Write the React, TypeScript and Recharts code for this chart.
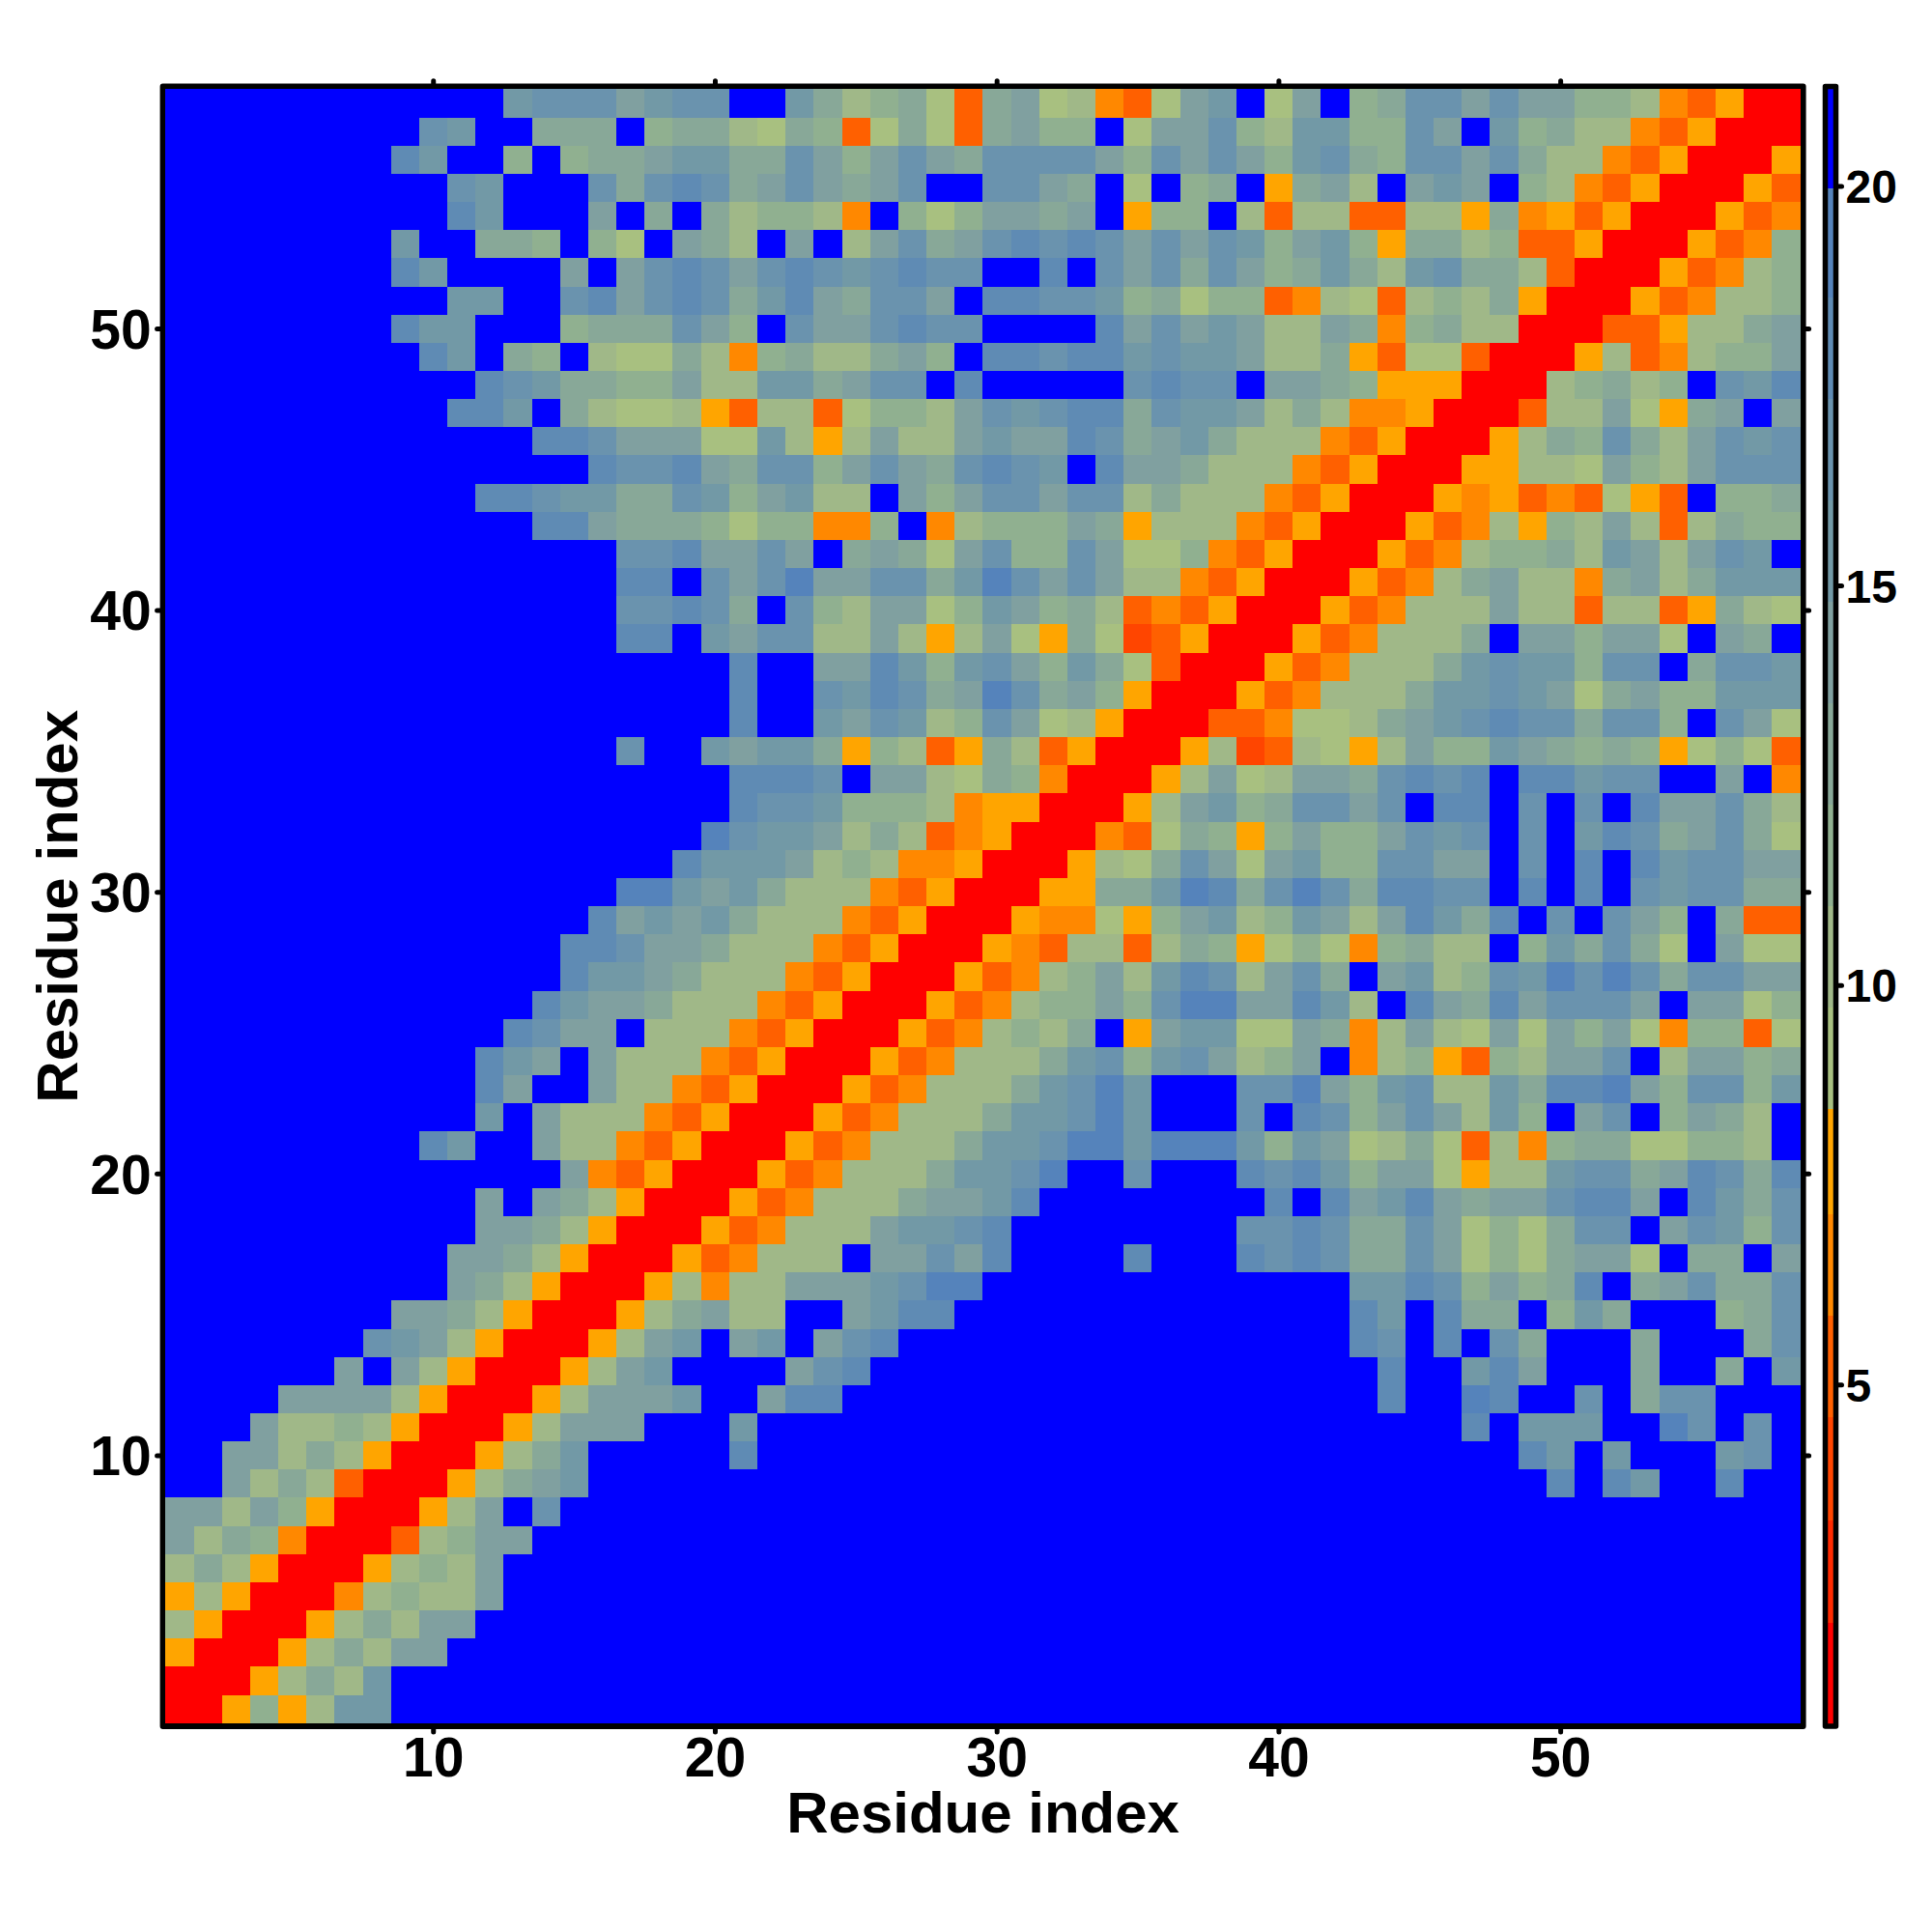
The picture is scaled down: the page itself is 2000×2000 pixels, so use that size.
import { ReferenceArea, ReferenceLine, Scatter, ScatterChart, XAxis, YAxis } from "recharts";

const FONT = '"Liberation Sans", Arial, sans-serif';

// one string per residue, from y = 58 at the top to y = 1, columns x = 1..58 (spaces are only for counting)
const rows = [
  ".......... ..67775677 ..642341U4 512VU156.1 5.34775755 332VUWRR",
  ".........7 6..444.344 2143U141U4 533.155732 663375.634 22VUWRRR",
  "........86 ..3.344566 4475357547 7775375753 6743775742 2VUWRRRW",
  ".......... 76...74787 4575457..7 754.1.34.W 452.565.32 VUWRRRWU",
  ".......... 86...5.4.4 2332V.3135 545.W33.2U 22UU22W4VW UWRRRWUV",
  "........6. .443.31.54 2.5.257457 8787575763 563W4423UU WRRRWUV3",
  "........86 ....5.5787 578767877. .8.7574753 464267442U RRRWUV23",
  ".......... 66..785787 46854775.8 877634133U V21U2324WR RRWUV223",
  "........86 6...344475 3.7557877. ...8575652 254V3422RR RUUW2245",
  ".........8 6.43.21142 V3422453.8 8788676652 24WU11URRR W2UV2335",
  ".......... .876443352 2664577.8. ....7877.5 543WWWRRR2 3423.768",
  ".......... 886.42112W U22U133257 6788476652 42VVWRRRU2 251W45.5",
  ".......... ...8875551 162W252256 5587456422 2VUWRRRW24 37425767",
  ".......... .....87785 4773575478 76.8554222 VUWRRRWW22 15325777",
  ".......... .887664476 35622.5357 757724222V UWRRRWVWUV U1WU.334",
  ".......... ...8854443 133VV3.V23 3354W222VU WRRRWUV2W3 252U2433",
  ".......... ......7785 575.454157 3375113VUW RRRWUV2334 2652576.",
  ".......... ......88.7 5795577469 757522VUWR RRWUV24522 V4524666",
  ".......... ......7787 4.73255136 5342UVUWRR RWUV222522 U22UW421",
  ".......... ......88.6 5772252W25 1W41TUWRRR WUV2224.55 3551.54.",
  ".......... .......... 8..5586367 53641URRRW UV22246766 377.4776",
  ".......... .......... 8..7687459 7453WRRRWU V222466765 14533666",
  ".......... .......... 8..6576237 512WRRRUUV 1124567877 4773.751",
  ".......... ......7..6 5664W32UW4 2UWRRRW2TU 21W2533654 343W131U",
  ".......... .......... 8887.55214 3VRRRW2512 5547878.88 677..5.V",
  ".......... .......... 87763332VW WRRRW25634 7757.88.7. 7.855742",
  ".......... .........9 7665242UVW RRRVU143W3 5335767.7. 68745741",
  ".......... ........86 665232VVWR RRW2147515 6337755.7. 8.867755",
  ".......... ......9965 64222VUWRR RWW4469847 9748877.8. 8.767744",
  ".......... .....85656 4222VUWRRR WVV1W35623 65258648.7 .753.4UU",
  ".......... ....887554 222VUWRRRW VU22U243W1 31V3422.36 4741.511",
  ".......... ....866542 22VUWRRRWU V235268725 74.5623769 79747755",
  ".......... ...8655422 2VUWRRRWUV 2335379955 862.854857 775.5513",
  ".......... ..8755.222 VUWRRRWUV2 324.W56611 54V2521515 351V33U1",
  ".......... .865.5222V UWRRRWUV22 2467367523 5.V23WU325 57.25534",
  ".......... .85..522VU WRRRWUV222 46796...77 9536722648 89537736",
  ".......... .6.5222VUW RRRWUV2224 66796...7. 873575263. 57.3542.",
  ".........8 6..522VUWR RRWUV22246 6799699963 651241U2V3 4411332.",
  ".......... ....5VUWRR RWUV222466 79..7...87 863551W226 77458748",
  ".......... .5.542WRRR WUV2224556 8........8 .856854557 885.8647",
  ".......... .5542WRRRW UV22256678 ........77 8744751314 77.57637",
  ".......... 5542WRRRWU V222.55758 ....8...87 8744751314 551.44.5",
  ".......... 542WRRRW2V 225556799. .......... ..66873534 8.457447",
  "........55 42WRRRW245 22..5688.. .......... ..86.844.3 64...347",
  ".......765 2WRRRW256. 56.578.... .......... ..87.8.74. ..4...47",
  "......5.52 WRRRW256.. ..578..... .......... ...8..685. ..4..4.6",
  "....55552W RRRW25556. .588...... .......... ...8..98.. 7.477...",
  "...52232WR RRW2555... 6......... .......... ......8.66 6..97.7.",
  "..55242WRR RW246..... 8......... .......... ........86 .6...67.",
  "..5242URRR W2456..... .......... .......... .........8 .86..8..",
  "55253WRRRW 25.7...... .......... .......... .......... ........",
  "5243VRRRU2 355....... .......... .......... .......... ........",
  "242WRRRW23 25........ .......... .......... .......... ........",
  "W2WRRRV232 25........ .......... .......... .......... ........",
  "2WRRRW2425 5......... .......... .......... .......... ........",
  "WRRRW24255 .......... .......... .......... .......... ........",
  "RRRW2426.. .......... .......... .......... .......... ........",
  "RRW3W266.. .......... .......... .......... .......... ........",
];

// colour key: the symbols used above, each bin's upper edge, and its colour
const binSymbols = ["R", "S", "T", "U", "V", "W", "1", "2", "3", "4", "5", "6", "7", "8", "9", "."];
const binEdges = [2.02, 3.3, 4.6, 5.87, 7.14, 8.45, 9.72, 10.99, 12.26, 13.53, 14.8, 16.07, 17.34, 18.61, 19.97, 21.25];
const binColors = [
  "#ff0000", "#ff2a00", "#ff4500", "#ff6000", "#ff8800", "#ffa500",
  "#a8c080", "#a0b888", "#90b090", "#88a898", "#80a0a0", "#7299a6",
  "#6a93ae", "#5f8bb4", "#5583bb", "#0000ff",
];

const axisTicks = [10, 20, 30, 40, 50];
const barTicks = [5, 10, 15, 20];

const AXIS_DOMAIN: [number, number] = [0.397, 58.603];
const BAR_DOMAIN: [number, number] = [0.73, 21.25];
const CELL = 29.6;
const TOP_TICK = 0.2; // in axis units, about the same length as the other ticks

const cells = rows.flatMap((row, i) =>
  row.replace(/ /g, "").split("").map((symbol, j) => ({ x: j + 1, y: 58 - i, bin: binSymbols.indexOf(symbol) }))
);
const barPoints = binEdges.map((edge) => ({ x: 0.5, y: edge }));

const tickLine = { stroke: "#000", strokeWidth: 5, strokeLinecap: "round" as const };
const tickText = { fill: "#000", fontSize: 57, fontWeight: 700, fontFamily: FONT };
const barText = { fill: "#000", fontSize: 48, fontWeight: 700, fontFamily: FONT };
const labelText = { fill: "#000", fontSize: 60, fontWeight: 700, fontFamily: FONT };

function HeatCell(props: any) {
  const { cx, cy, payload } = props;
  return (
    <rect
      x={cx - CELL / 2}
      y={cy - CELL / 2}
      width={CELL}
      height={CELL}
      fill={binColors[payload.bin]}
      shapeRendering="crispEdges"
    />
  );
}

// the mirrored right axis only has tick marks
const NoLabel = () => <g />;

export default function App() {
  return (
    <div style={{ position: "absolute", left: 0, top: 0, width: 2000, height: 2000, background: "#fff" }}>
      <div style={{ position: "absolute", left: 0, top: 0 }}>
        <ScatterChart width={2000} height={2000} margin={{ top: 89.6, right: 123.4, bottom: 113, left: 38.6 }}>
          <XAxis
            type="number"
            dataKey="x"
            domain={AXIS_DOMAIN}
            ticks={axisTicks}
            allowDataOverflow
            axisLine={false}
            height={100}
            tickSize={6}
            tickMargin={6}
            tickLine={tickLine}
            tick={tickText}
            label={{ value: "Residue index", position: "insideBottom", offset: -10, style: labelText }}
          />
          <YAxis
            type="number"
            dataKey="y"
            domain={AXIS_DOMAIN}
            ticks={axisTicks}
            allowDataOverflow
            axisLine={false}
            width={130}
            tickSize={6}
            tickMargin={6}
            tickLine={tickLine}
            tick={tickText}
            label={{
              value: "Residue index",
              angle: -90,
              position: "insideLeft",
              offset: 20,
              style: { ...labelText, textAnchor: "middle" },
            }}
          />
          <YAxis
            yAxisId="right"
            orientation="right"
            type="number"
            domain={AXIS_DOMAIN}
            ticks={axisTicks}
            allowDataOverflow
            axisLine={false}
            width={10}
            tickSize={6}
            tickLine={tickLine}
            tick={NoLabel}
          />
          <Scatter data={cells} shape={HeatCell} isAnimationActive={false} />
          {axisTicks.map((t) => (
            <ReferenceLine
              key={t}
              segment={[
                { x: t, y: AXIS_DOMAIN[1] },
                { x: t, y: AXIS_DOMAIN[1] + TOP_TICK },
              ]}
              ifOverflow="visible"
              stroke="#000"
              strokeWidth={5}
              strokeLinecap="round"
            />
          ))}
          <ReferenceArea
            x1={AXIS_DOMAIN[0]}
            x2={AXIS_DOMAIN[1]}
            y1={AXIS_DOMAIN[0]}
            y2={AXIS_DOMAIN[1]}
            fill="none"
            fillOpacity={1}
            stroke="#000"
            strokeWidth={6}
            strokeLinejoin="round"
          />
        </ScatterChart>
      </div>
      <div style={{ position: "absolute", left: 1880, top: 0 }}>
        <ScatterChart width={120} height={2000} margin={{ top: 89.6, right: 10, bottom: 213, left: 9.5 }}>
          <XAxis type="number" dataKey="x" domain={[0, 1]} height={0} tick={false} tickLine={false} axisLine={false} />
          <YAxis
            orientation="right"
            type="number"
            dataKey="y"
            domain={BAR_DOMAIN}
            ticks={barTicks}
            allowDataOverflow
            axisLine={false}
            width={89.5}
            tickSize={6}
            tickMargin={4}
            tickLine={tickLine}
            tick={barText}
          />
          <Scatter data={barPoints} shape={NoLabel} isAnimationActive={false} />
          {binColors.map((color, i) => (
            <ReferenceArea
              key={color}
              x1={0}
              x2={1}
              y1={i === 0 ? BAR_DOMAIN[0] : binEdges[i - 1]}
              y2={binEdges[i]}
              fill={color}
              fillOpacity={1}
              stroke="none"
              shapeRendering="crispEdges"
            />
          ))}
          <ReferenceArea
            x1={0}
            x2={1}
            y1={BAR_DOMAIN[0]}
            y2={BAR_DOMAIN[1]}
            fill="none"
            fillOpacity={1}
            stroke="#000"
            strokeWidth={5.5}
            strokeLinejoin="round"
          />
        </ScatterChart>
      </div>
    </div>
  );
}
